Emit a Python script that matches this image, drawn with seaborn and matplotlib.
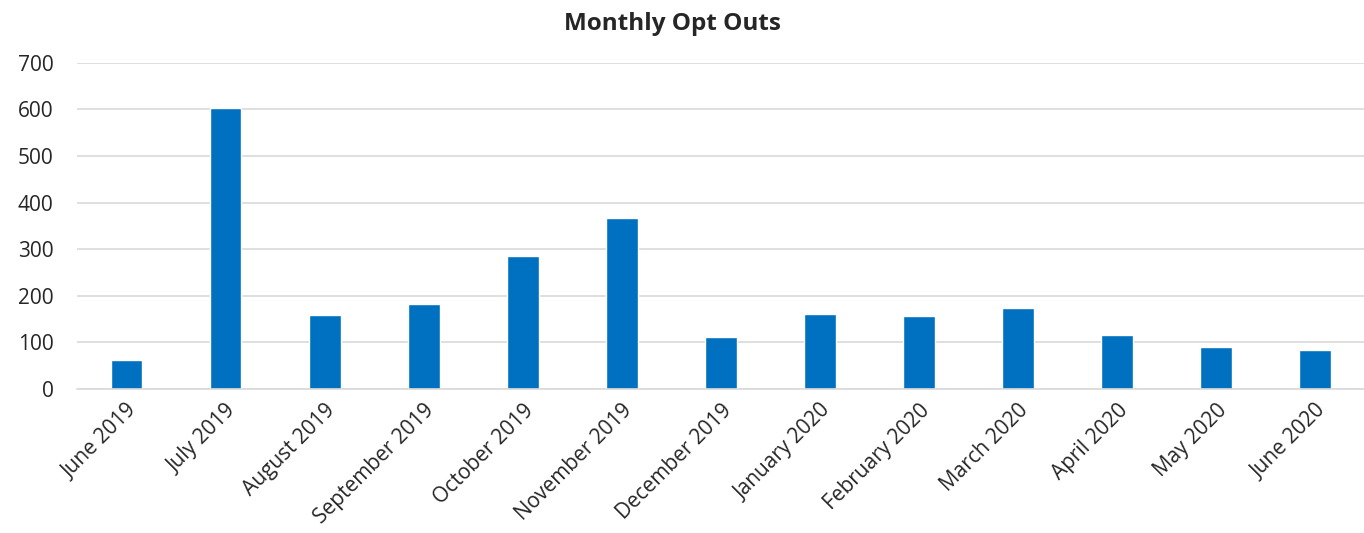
import pandas as pd
import matplotlib
matplotlib.use('Agg')
import matplotlib.pyplot as plt
import seaborn as sns

# data
months = ['June 2019', 'July 2019', 'August 2019', 'September 2019', 'October 2019',
          'November 2019', 'December 2019', 'January 2020', 'February 2020',
          'March 2020', 'April 2020', 'May 2020', 'June 2020']
opt_outs = [62, 603, 158, 183, 285, 368, 111, 162, 156, 175, 117, 90, 84]

data = pd.DataFrame({'Month': months, 'Opt Outs': opt_outs})

sns.set_theme(style='white')
plt.rcParams['font.family'] = ['Open Sans', 'DejaVu Sans']

fig = plt.figure(figsize=(13.64, 5.33), dpi=100)
ax = fig.add_axes([0.0565, 0.27, 0.944, 0.612])

sns.barplot(data=data, x='Month', y='Opt Outs', color='#0070C0',
            width=0.32, saturation=1, ax=ax)

ax.set_ylim(0, 700)
ax.set_xlim(-0.5, len(months) - 0.5)
ax.set_yticks(range(0, 701, 100))
ax.yaxis.grid(True, color='#d9d9d9', linewidth=1.2)
ax.set_axisbelow(True)
ax.set_xlabel('')
ax.set_ylabel('')

for s in ['top', 'right', 'left']:
    ax.spines[s].set_visible(False)
ax.spines['bottom'].set_color('#d9d9d9')
ax.spines['bottom'].set_linewidth(1.2)

# excel style ticks between categories
ax.set_xticks([i - 0.5 for i in range(len(months) + 1)], minor=True)
ax.tick_params(axis='x', which='minor', length=5, color='#d9d9d9', width=1.2)
ax.tick_params(axis='x', which='major', length=0, pad=8)
ax.tick_params(axis='y', length=0, pad=17, labelsize=15, labelcolor='#262626')

ax.set_xticks(range(len(months)))
ax.set_xticklabels(months, rotation=45, ha='right', va='top',
                   rotation_mode='anchor', fontsize=15, color='#262626')

fig.suptitle('Monthly Opt Outs', x=0.493, y=0.977, fontsize=17.5, fontweight='bold')

plt.savefig('out.png', dpi=100)
